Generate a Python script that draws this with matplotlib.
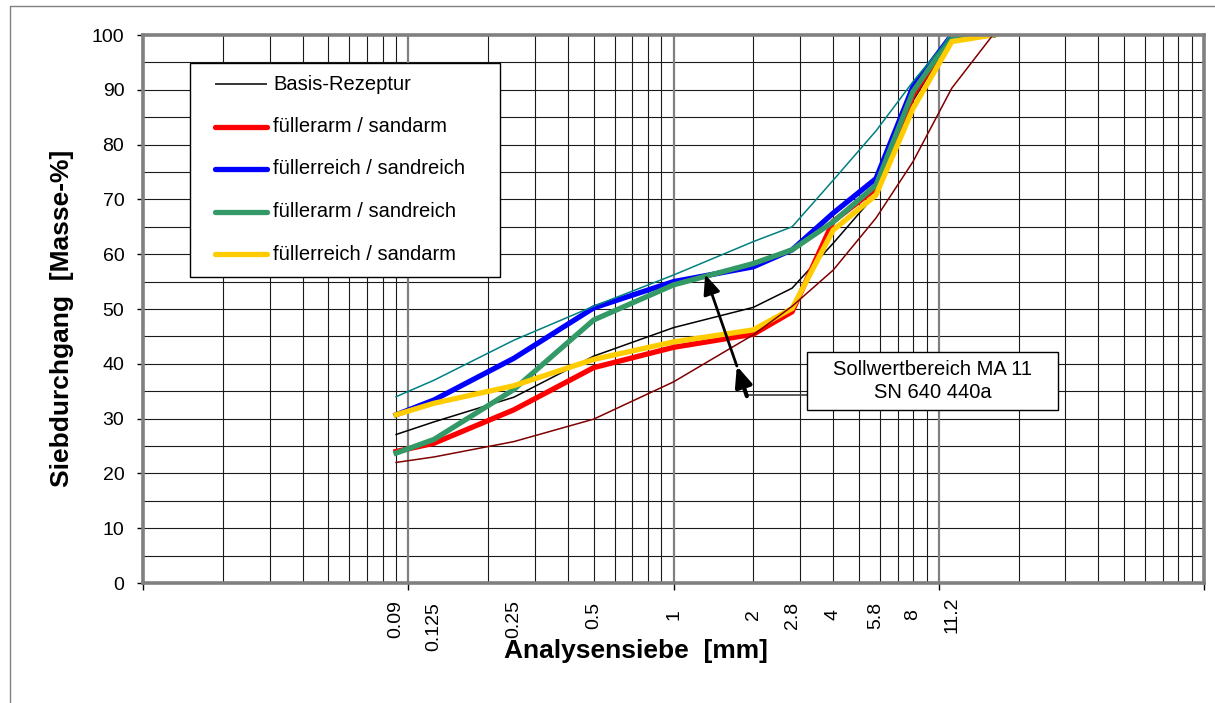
import matplotlib
matplotlib.use('Agg')
import matplotlib.pyplot as plt
from matplotlib.lines import Line2D
from matplotlib.patches import Rectangle
from matplotlib.ticker import NullLocator
from matplotlib.transforms import blended_transform_factory

plt.rcParams['font.family'] = ['Liberation Sans', 'DejaVu Sans']

# Siebweiten [mm] und Siebdurchgang [Masse-%]
sieves = [0.09, 0.125, 0.25, 0.5, 1, 2, 2.8, 4, 5.8, 8, 11.2, 16]
sieve_labels = ['0.09', '0.125', '0.25', '0.5', '1', '2', '2.8', '4', '5.8', '8', '11.2']

basis = [27.1, 29.4, 33.9, 41.4, 46.6, 50.3, 53.8, 62.0, 71.0, 88.0, 99.5, 100]
fa_sa = [24.0, 25.5, 31.6, 39.3, 43.0, 45.4, 49.5, 66.0, 72.0, 89.0, 100, 100]
fr_sr = [30.7, 33.4, 41.0, 50.2, 55.0, 57.7, 60.8, 67.5, 73.8, 90.6, 100, 100]
fa_sr = [23.7, 26.2, 35.3, 48.0, 54.4, 58.3, 60.8, 65.9, 72.6, 89.7, 99.8, 100]
fr_sa = [30.7, 32.8, 36.0, 40.8, 44.0, 46.2, 50.1, 64.4, 70.8, 86.6, 98.8, 100]

# Sollwertbereich MA 11 (SN 640 440a)
upper_limit = [34.0, 37.0, 44.3, 50.5, 56.2, 62.3, 65.0, 73.5, 82.5, 91.5, 100, 100]
lower_limit = [22.0, 23.0, 25.8, 29.9, 36.7, 45.3, 50.5, 57.1, 66.6, 76.9, 90.3, 100]

series = [
    ('Basis-Rezeptur', basis, 'black', 1.1),
    ('füllerarm / sandarm', fa_sa, '#FF0000', 3.8),
    ('füllerreich / sandreich', fr_sr, '#0000FF', 3.8),
    ('füllerarm / sandreich', fa_sr, '#339966', 3.8),
    ('füllerreich / sandarm', fr_sa, '#FFCC00', 3.8),
]

W, H = 1215, 703
fig = plt.figure(figsize=(W / 100, H / 100), dpi=100)
# plot area in pixels: x 143..1204, y 35..583
ax = fig.add_axes([143 / W, (H - 583) / H, 1061 / W, 548 / H])
ax.set_xscale('log')
ax.set_xlim(0.01, 100)
ax.set_ylim(0, 100)


def ax_x(px):
    return (px - 143) / 1061


def ax_y(py):
    return (583 - py) / 548


# grid
for y in range(5, 100, 5):
    ax.axhline(y, color='#1a1a1a', lw=0.8, zorder=0)
for dec in [0.01, 0.1, 1, 10]:
    if dec > 0.01:
        ax.axvline(dec, color='#808080', lw=1.6, zorder=0)
    for m in range(2, 10):
        ax.axvline(m * dec, color='#1a1a1a', lw=0.8, zorder=0)

for name, vals, col, lw in series:
    ax.plot(sieves, vals, color=col, lw=lw, solid_joinstyle='miter', zorder=2)
ax.plot(sieves, lower_limit, color='#800000', lw=1.1, zorder=3)
ax.plot(sieves, upper_limit, color='#008080', lw=1.1, zorder=3)

for sp in ax.spines.values():
    sp.set_color('#808080')
    sp.set_linewidth(2.6)
    sp.set_zorder(4)

ax.set_yticks(range(0, 101, 10))
ax.tick_params(axis='y', length=4.5, width=1, color='black', labelsize=14, pad=9)
ax.set_xticks([0.01, 0.1, 1, 10, 100])
ax.set_xticklabels([])
ax.xaxis.set_minor_locator(NullLocator())
ax.tick_params(axis='x', length=5, width=1, color='black')

# sieve labels below the axis
trans = blended_transform_factory(ax.transData, ax.transAxes)
label_y = {'0.125': 627, '0.09': 619, '0.25': 619}
for s, lab in zip(sieves, sieve_labels):
    ax.text(s, ax_y(label_y.get(lab, 615)), lab, transform=trans, rotation=90,
            ha='center', va='center', fontsize=14, clip_on=False)

fig.text(636 / W, 1 - 651 / H, 'Analysensiebe  [mm]', fontsize=19, fontweight='bold',
         ha='center', va='center')
fig.text(62 / W, 1 - 318 / H, 'Siebdurchgang  [Masse-%]', fontsize=19, fontweight='bold',
         rotation=90, ha='center', va='center')

# legend box
ax.add_patch(Rectangle((ax_x(190), ax_y(277)), ax_x(500) - ax_x(190), ax_y(63) - ax_y(277),
                       transform=ax.transAxes, fc='white', ec='black', lw=1, zorder=6))
for i, (name, vals, col, lw) in enumerate(series):
    yy = ax_y(84 + 42.5 * i)
    ax.plot([ax_x(215), ax_x(267)], [yy, yy], transform=ax.transAxes, color=col,
            lw=lw, zorder=7, solid_capstyle='round' if lw > 2 else 'butt')
    ax.text(ax_x(273), yy, name, transform=ax.transAxes, fontsize=14.5,
            ha='left', va='center', zorder=7)

# target range note with arrow
ax.plot([ax_x(746), ax_x(807)], [ax_y(395), ax_y(395)], transform=ax.transAxes,
        color='#404040', lw=1.2, zorder=6)
ax.add_patch(Rectangle((ax_x(807), ax_y(410)), ax_x(1058) - ax_x(807), ax_y(352) - ax_y(410),
                       transform=ax.transAxes, fc='white', ec='black', lw=1, zorder=6))
ax.text(ax_x(932.5), ax_y(381), 'Sollwertbereich MA 11\nSN 640 440a', transform=ax.transAxes,
        fontsize=14.5, ha='center', va='center', linespacing=1.25, zorder=7)
head = '-|>,head_length=0.75,head_width=0.32'
ax.annotate('', xy=(1.316, 56.3), xytext=(1.733, 39.6),
            arrowprops=dict(arrowstyle=head, color='black', lw=2, mutation_scale=16,
                            shrinkA=0, shrinkB=0),
            zorder=8)
ax.annotate('', xy=(1.733, 39.6), xytext=(1.890, 34.1),
            arrowprops=dict(arrowstyle=head, color='black', lw=3, mutation_scale=16,
                            shrinkA=0, shrinkB=0),
            zorder=8)

# chart area border
fig.add_artist(Line2D([9.5 / W, 9.5 / W, 1], [0, 1 - 5.7 / H, 1 - 5.7 / H],
                      transform=fig.transFigure, color='#808080', lw=1))

fig.savefig('out.png', dpi=100, facecolor='white')
